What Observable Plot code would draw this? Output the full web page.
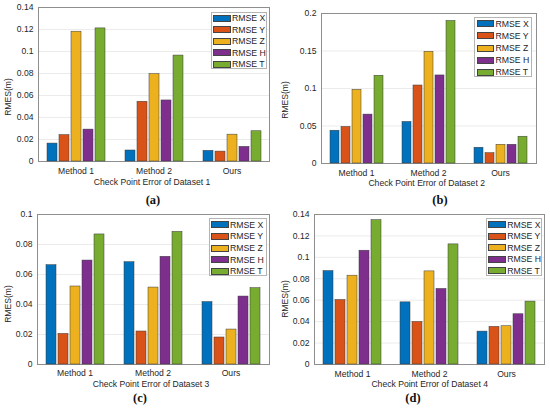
<!DOCTYPE html>
<html><head><meta charset="utf-8">
<script src="https://cdn.jsdelivr.net/npm/d3@7"></script>
<script src="https://cdn.jsdelivr.net/npm/@observablehq/plot@0.6"></script>
<style>
body{margin:0;background:#fff;}
#wrap{position:relative;width:550px;height:410px;font-family:"Liberation Sans",Arial,sans-serif;color:#262626;overflow:hidden;}
.panel{position:absolute;}
.panel svg{position:absolute;left:0;top:0;}
.xl{position:absolute;font-size:8.6px;white-space:nowrap;transform:translate(-50%,-50%);}
.yl{position:absolute;font-size:8.6px;white-space:nowrap;transform:translate(-50%,-50%) rotate(-90deg);}
.cap{position:absolute;font-family:"Liberation Serif",serif;font-weight:bold;font-size:12.5px;color:#111;transform:translate(-50%,-50%);}
.leg{position:absolute;background:#fff;border:1px solid #b4b4b4;box-sizing:border-box;}
.row{position:absolute;left:1.5px;height:8px;display:flex;align-items:center;font-size:8.7px;white-space:nowrap;}
.sw{width:17.5px;height:7px;border:0.6px solid #444;box-sizing:border-box;margin-right:1.5px;}
</style>
</head><body>
<div id="wrap"></div>
<script>
const methods = ["Method 1", "Method 2", "Ours"];
const series = ["RMSE X", "RMSE Y", "RMSE Z", "RMSE H", "RMSE T"];
const colors = ["#0072BD", "#D95319", "#EDB120", "#7E2F8E", "#77AC30"];

// Dataset 1 (values per method: Method 1, Method 2, Ours)
const set1X = [0.0163, 0.0100, 0.0097];
const set1Y = [0.0240, 0.0543, 0.0090];
const set1Z = [0.1180, 0.0794, 0.0244];
const set1H = [0.0290, 0.0555, 0.0133];
const set1T = [0.1210, 0.0963, 0.0275];
// Dataset 2
const set2X = [0.0437, 0.0554, 0.0210];
const set2Y = [0.0487, 0.1040, 0.0138];
const set2Z = [0.0982, 0.1490, 0.0250];
const set2H = [0.0652, 0.1174, 0.0250];
const set2T = [0.1170, 0.1900, 0.0357];
// Dataset 3
const set3X = [0.0662, 0.0682, 0.0416];
const set3Y = [0.0204, 0.0220, 0.0180];
const set3Z = [0.0520, 0.0513, 0.0233];
const set3H = [0.0693, 0.0718, 0.0453];
const set3T = [0.0867, 0.0884, 0.0509];
// Dataset 4
const set4X = [0.0872, 0.0580, 0.0307];
const set4Y = [0.0602, 0.0397, 0.0351];
const set4Z = [0.0829, 0.0869, 0.0357];
const set4H = [0.1062, 0.0705, 0.0469];
const set4T = [0.1347, 0.1121, 0.0587];

const ticks014 = [0, 0.02, 0.04, 0.06, 0.08, 0.1, 0.12, 0.14];
const ticks02 = [0, 0.05, 0.1, 0.15, 0.2];
const ticks01 = [0, 0.02, 0.04, 0.06, 0.08, 0.1];

const yLabel = "RMES(m)";
const xLabels = ["Check Point Error of Dataset 1", "Check Point Error of Dataset 2",
                 "Check Point Error of Dataset 3", "Check Point Error of Dataset 4"];
const captions = ["(a)", "(b)", "(c)", "(d)"];

const panels = [
  {vals: [set1X, set1Y, set1Z, set1H, set1T], ymax: 0.14, ticks: ticks014,
   left: 0, top: 0, w: 275, h: 190, ml: 38, mt: 7, mr: 6, mb: 29, tp: 6,
   xl: [152, 182.3], yl: [8.3, 97], cap: [153, 200], leg: [210.5, 11.7, 56, 57.6]},
  {vals: [set2X, set2Y, set2Z, set2H, set2T], ymax: 0.2, ticks: ticks02,
   left: 275, top: 0, w: 275, h: 190, ml: 46, mt: 13, mr: 14, mb: 27, tp: 6,
   xl: [426.7, 183], yl: [285, 100], cap: [440, 200], leg: [474, 17.3, 58, 60]},
  {vals: [set3X, set3Y, set3Z, set3H, set3T], ymax: 0.1, ticks: ticks01,
   left: 0, top: 205, w: 275, h: 185, ml: 37, mt: 9, mr: 6, mb: 26, tp: 5,
   xl: [151, 384.3], yl: [7.5, 304], cap: [140, 398], leg: [208.5, 218.3, 58, 58]},
  {vals: [set4X, set4Y, set4Z, set4H, set4T], ymax: 0.14, ticks: ticks014,
   left: 275, top: 205, w: 275, h: 185, ml: 39, mt: 9, mr: 6, mb: 26, tp: 6,
   xl: [429.7, 384], yl: [285, 299], cap: [413, 397.7], leg: [485.7, 218.3, 56, 57.7]}
];

const wrap = document.getElementById("wrap");
const baseStyle = {fontFamily: "Liberation Sans, Arial, sans-serif", fontSize: "8.6px", color: "#262626", background: "transparent", overflow: "visible"};
const tickFmt = d3.format("~g");

panels.forEach((p, k) => {
  const rows = [];
  methods.forEach((m, i) => series.forEach((s, j) => rows.push({method: m, series: s, value: p.vals[j][i]})));

  const dims = {width: p.w, height: p.h, marginLeft: p.ml, marginTop: p.mt, marginRight: p.mr, marginBottom: p.mb, style: baseStyle};

  // Background layer: y axis, grid and box
  const back = Plot.plot({
    ...dims,
    x: {domain: methods, axis: null},
    y: {domain: [0, p.ymax], ticks: p.ticks, tickFormat: tickFmt, tickSize: 0, tickPadding: 5, label: null},
    marks: [
      Plot.gridY(p.ticks, {stroke: "#ebebeb", strokeOpacity: 1}),
      Plot.frame({stroke: "#8e8e8e", strokeWidth: 1})
    ]
  });

  // Foreground layer: grouped bars
  const front = Plot.plot({
    ...dims,
    fx: {domain: methods, axis: "bottom", paddingInner: 0.25, paddingOuter: 0.1, align: 0.47, tickSize: 0, tickPadding: p.tp, label: null},
    x: {domain: series, paddingInner: 0.19, paddingOuter: 0, axis: null},
    y: {domain: [0, p.ymax], axis: null},
    color: {domain: series, range: colors},
    marks: [
      Plot.barY(rows, {fx: "method", x: "series", y: "value", fill: "series", stroke: "#3a3a3a", strokeWidth: 0.5})
    ]
  });

  const holder = document.createElement("div");
  holder.className = "panel";
  holder.style.left = p.left + "px";
  holder.style.top = p.top + "px";
  holder.style.width = p.w + "px";
  holder.style.height = p.h + "px";
  holder.appendChild(back);
  holder.appendChild(front);
  wrap.appendChild(holder);

  const xl = document.createElement("div");
  xl.className = "xl"; xl.textContent = xLabels[k];
  xl.style.left = p.xl[0] + "px"; xl.style.top = p.xl[1] + "px";
  wrap.appendChild(xl);

  const yl = document.createElement("div");
  yl.className = "yl"; yl.textContent = yLabel;
  yl.style.left = p.yl[0] + "px"; yl.style.top = p.yl[1] + "px";
  wrap.appendChild(yl);

  const cap = document.createElement("div");
  cap.className = "cap"; cap.textContent = captions[k];
  cap.style.left = p.cap[0] + "px"; cap.style.top = p.cap[1] + "px";
  wrap.appendChild(cap);

  const leg = document.createElement("div");
  leg.className = "leg";
  leg.style.left = p.leg[0] + "px"; leg.style.top = p.leg[1] + "px";
  leg.style.width = p.leg[2] + "px"; leg.style.height = p.leg[3] + "px";
  const stepY = (p.leg[3] - 11.5) / 4;
  series.forEach((s, j) => {
    const r = document.createElement("div");
    r.className = "row";
    r.style.top = (1.5 + j * stepY) + "px";
    const sw = document.createElement("div");
    sw.className = "sw"; sw.style.background = colors[j];
    const t = document.createElement("span");
    t.textContent = s;
    r.appendChild(sw); r.appendChild(t);
    leg.appendChild(r);
  });
  wrap.appendChild(leg);
});
</script>
</body></html>
